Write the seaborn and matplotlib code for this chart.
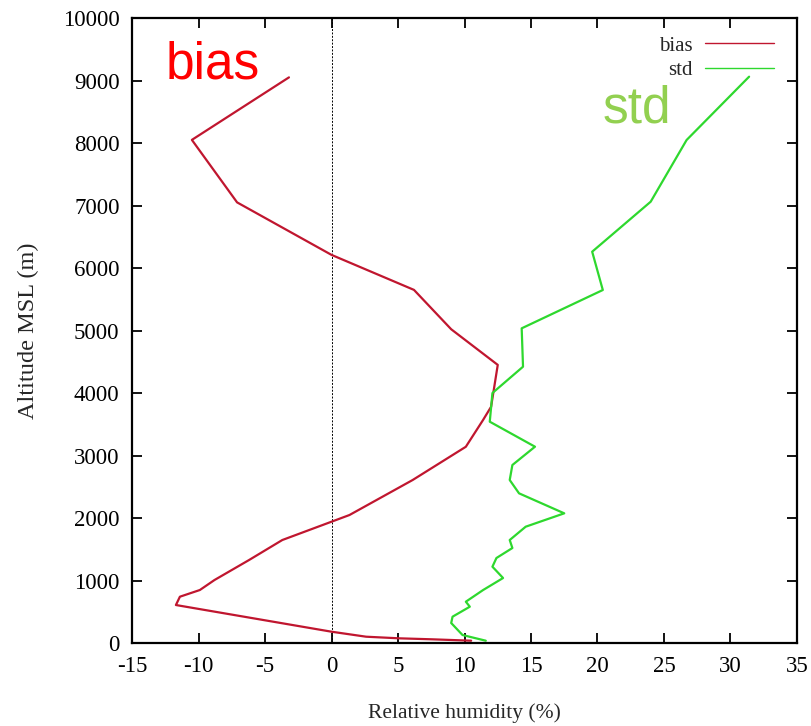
import matplotlib
matplotlib.use("Agg")
import matplotlib.pyplot as plt
import seaborn as sns
import pandas as pd

# Relative-humidity bias profile (altitude in m, bias in %)
bias_alt = [37, 59, 75, 101, 181, 608, 741, 848, 1008, 1328, 1648, 1941, 2048,
            2608, 3140, 3570, 3780, 4450, 5020, 5650, 6210, 7050, 8050, 9050]
bias_val = [10.5, 7.6, 5.1, 2.6, 0.0, -11.7, -11.4, -9.9, -8.8, -6.2, -3.7, 0.0, 1.35,
            6.1, 10.1, 11.4, 12.0, 12.5, 9.0, 6.2, 0.0, -7.1, -10.5, -3.2]

# Standard deviation profile (altitude in m, std in %)
std_alt = [37, 128, 320, 421, 581, 661, 848, 1040, 1221, 1360, 1520, 1648, 1861,
           2075, 2395, 2608, 2848, 3141, 3541, 4000, 4421, 5035, 5648, 6261,
           7061, 8048, 9061]
std_val = [11.6, 9.85, 9.0, 9.1, 10.4, 10.1, 11.4, 12.9, 12.1, 12.4, 13.6, 13.4, 14.6,
           17.5, 14.1, 13.4, 13.6, 15.3, 11.9, 12.1, 14.4, 14.3, 20.4, 19.6,
           24.0, 26.7, 31.4]

x_ticks = [-15, -10, -5, 0, 5, 10, 15, 20, 25, 30, 35]
y_ticks = [0, 1000, 2000, 3000, 4000, 5000, 6000, 7000, 8000, 9000, 10000]

bias_df = pd.DataFrame({"rh": bias_val, "alt": bias_alt})
std_df = pd.DataFrame({"rh": std_val, "alt": std_alt})

sns.set_style("ticks")
plt.rcParams["font.family"] = ["Liberation Serif", "DejaVu Serif"]
plt.rcParams["axes.unicode_minus"] = False

fig = plt.figure(figsize=(8.12, 7.26), dpi=100)
ax = fig.add_axes([0.1626, 0.1143, 0.8189, 0.8609])

bias_color = "#c0162f"
std_color = "#2ed82e"

sns.lineplot(data=bias_df, x="rh", y="alt", sort=False, estimator=None,
             color=bias_color, linewidth=1.6, label="bias", ax=ax)
sns.lineplot(data=std_df, x="rh", y="alt", sort=False, estimator=None,
             color=std_color, linewidth=1.6, label="std", ax=ax)

ax.axvline(0, color="black", linestyle=(0, (2, 1.5)), linewidth=0.7, zorder=1)

ax.set_xlim(-15, 35)
ax.set_ylim(0, 10000)
ax.set_xticks(x_ticks)
ax.set_yticks(y_ticks)
ax.tick_params(direction="in", length=7, width=1.3, top=True, right=True,
               labelsize=16.5, pad=9, colors="black")
for s in ax.spines.values():
    s.set_linewidth(1.6)
    s.set_color("black")

ax.set_xlabel("Relative humidity (%)", fontsize=15.5, labelpad=19)
ax.set_ylabel("Altitude MSL (m)", fontsize=17.5, labelpad=17)

leg = ax.legend(loc="upper right", bbox_to_anchor=(1.0, 1.008), markerfirst=False,
                frameon=False, fontsize=15, handlelength=3.3, handletextpad=0.6,
                labelspacing=0.25, borderaxespad=0.9, borderpad=0.2)
for line in leg.get_lines():
    line.set_linewidth(1.0)

ax.text(0.05, 0.925, "bias", transform=ax.transAxes, color="#ff0000",
        fontsize=37, family=["Liberation Sans", "DejaVu Sans"], va="center")
ax.text(0.708, 0.855, "std", transform=ax.transAxes, color="#92d050",
        fontsize=37, family=["Liberation Sans", "DejaVu Sans"], va="center")

fig.savefig("out.png", dpi=100, facecolor="white")
